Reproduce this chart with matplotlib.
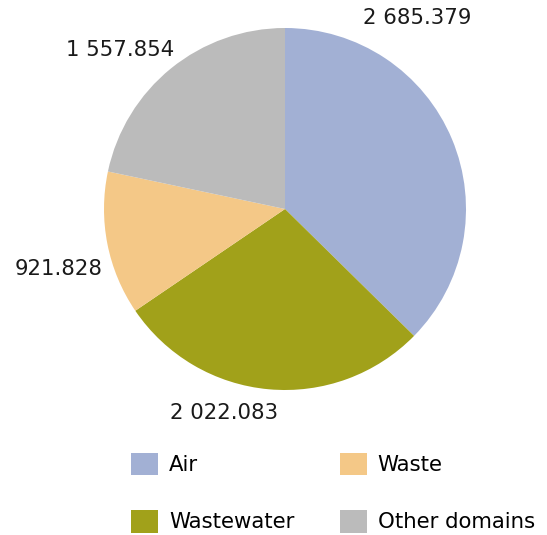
import matplotlib
matplotlib.use("Agg")
import matplotlib.pyplot as plt
from matplotlib.patches import Patch

plt.rcParams['font.family'] = ['DejaVu Sans']

# Domains and values (clockwise from 12 o'clock)
domains = ['Air', 'Wastewater', 'Waste', 'Other domains']
values = [2685.379, 2022.083, 921.828, 1557.854]
value_labels = ['2 685.379', '2 022.083', '921.828', '1 557.854']
colors = ['#a2b0d4', '#a1a11a', '#f4c887', '#bbbbbb']

# where each value label sits, in pie-radius units
label_xy = [(0.729, 1.055), (-0.337, -1.127), (-1.249, -0.331), (-0.912, 0.878)]

W, H = 547, 535
fig = plt.figure(figsize=(W / 100, H / 100), dpi=100)

cx, cy, r = 285, 209, 181
ax = fig.add_axes([(cx - r) / W, (H - cy - r) / H, 2 * r / W, 2 * r / H])
ax.pie(values, colors=colors, startangle=90, counterclock=False, radius=1,
       wedgeprops=dict(linewidth=0))
ax.set_xlim(-1, 1)
ax.set_ylim(-1, 1)
ax.set_aspect('equal')
ax.axis('off')

fs = 15.3
for (x, y), txt in zip(label_xy, value_labels):
    ax.text(x, y, txt, ha='center', va='center', fontsize=fs,
            color='#1a1a1a', clip_on=False)

handles = [Patch(facecolor=c, edgecolor='none') for c in colors]
fig.legend(handles, domains, loc='upper left',
           bbox_to_anchor=(131 / W, 1 - 452.5 / H), ncol=2, frameon=False,
           fontsize=fs, handlelength=1.28, handleheight=1.28,
           handletextpad=0.5, columnspacing=2.15, labelspacing=1.62,
           borderpad=0, borderaxespad=0)

fig.savefig('out.png', dpi=100)
